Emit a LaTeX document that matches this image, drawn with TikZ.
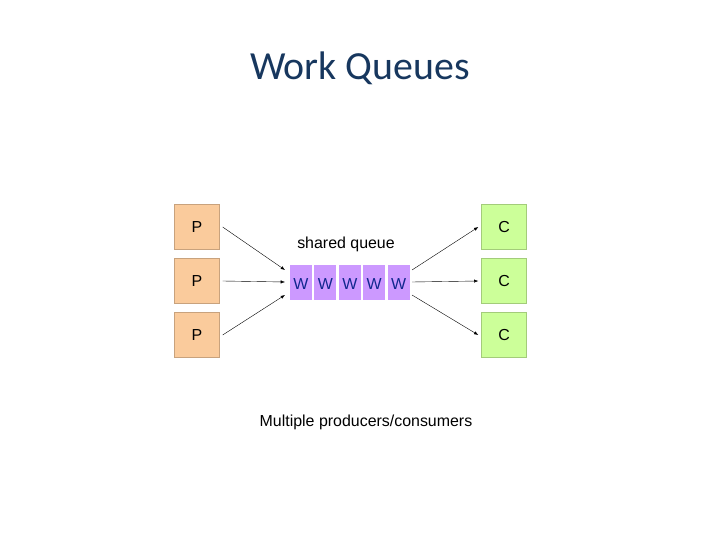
\documentclass[tikz,border=0pt]{standalone}
\usepackage{fontspec}
\setmainfont{Liberation Sans}
\newfontfamily\titlefont{Carlito}
\usetikzlibrary{positioning,arrows.meta}
\definecolor{prodfill}{HTML}{FACB9C}
\definecolor{consfill}{HTML}{CCFF99}
\definecolor{cellfill}{HTML}{CC99FF}
\definecolor{titleblue}{HTML}{17375E}
\tikzset{
  >={Latex[scale=0.9]},
  prod/.style={rectangle, fill=prodfill, draw=prodfill!80!black, line width=0.3pt, minimum width=45bp, minimum height=45bp, inner sep=0pt, font=\fontsize{16}{18}\selectfont},
  cons/.style={prod, fill=consfill, draw=consfill!80!black},
  cell/.style={rectangle, fill=cellfill, minimum width=22bp, minimum height=35bp, inner sep=0pt, font=\fontsize{16}{18}\selectfont, text=titleblue!70!blue},
}
\begin{document}
\begin{tikzpicture}[x=1bp,y=-1bp]
    \useasboundingbox (0,0) rectangle (720,540);

    \node (title) [font=\titlefont\fontsize{40}{44}\selectfont, text=titleblue] at (360,68) {Work Queues};

    \foreach \i/\y in {1/227,2/281,3/335}{
        \node (p\i)[prod] at (197,\y) {P};
        \node (c\i)[cons] at (504,\y) {C};
    };

    \node (w1)[cell] at (301,282.5) {};
    \foreach \x [remember=\x as \lastx (initially 1)] in {2,...,5}{
        \node (w\x)[cell, right=2bp of w\lastx] {};
    };
    \foreach \x in {1,...,5}{
        \node [font=\fontsize{16}{18}\selectfont, text=titleblue!70!blue] at ([yshift=-1.5bp]w\x) {W};
    };

    \node (queueDesc) [font=\fontsize{16}{18}\selectfont] at (346,244) {shared queue};

    \coordinate (qin1) at (285,270);
    \coordinate (qin2) at (285,282);
    \coordinate (qin3) at (285,295);
    \coordinate (qout1) at (412,270);
    \coordinate (qout2) at (412,282);
    \coordinate (qout3) at (412,295);

    \foreach \i in {1,2,3}{
        \draw [->] ([xshift=3bp]p\i.east) -- (qin\i);
        \draw [->] (qout\i) -- ([xshift=-3bp]c\i.west);
    };

    \node (caption) [font=\fontsize{16}{18}\selectfont] at (366,422) {Multiple producers/consumers};
\end{tikzpicture}
\end{document}
